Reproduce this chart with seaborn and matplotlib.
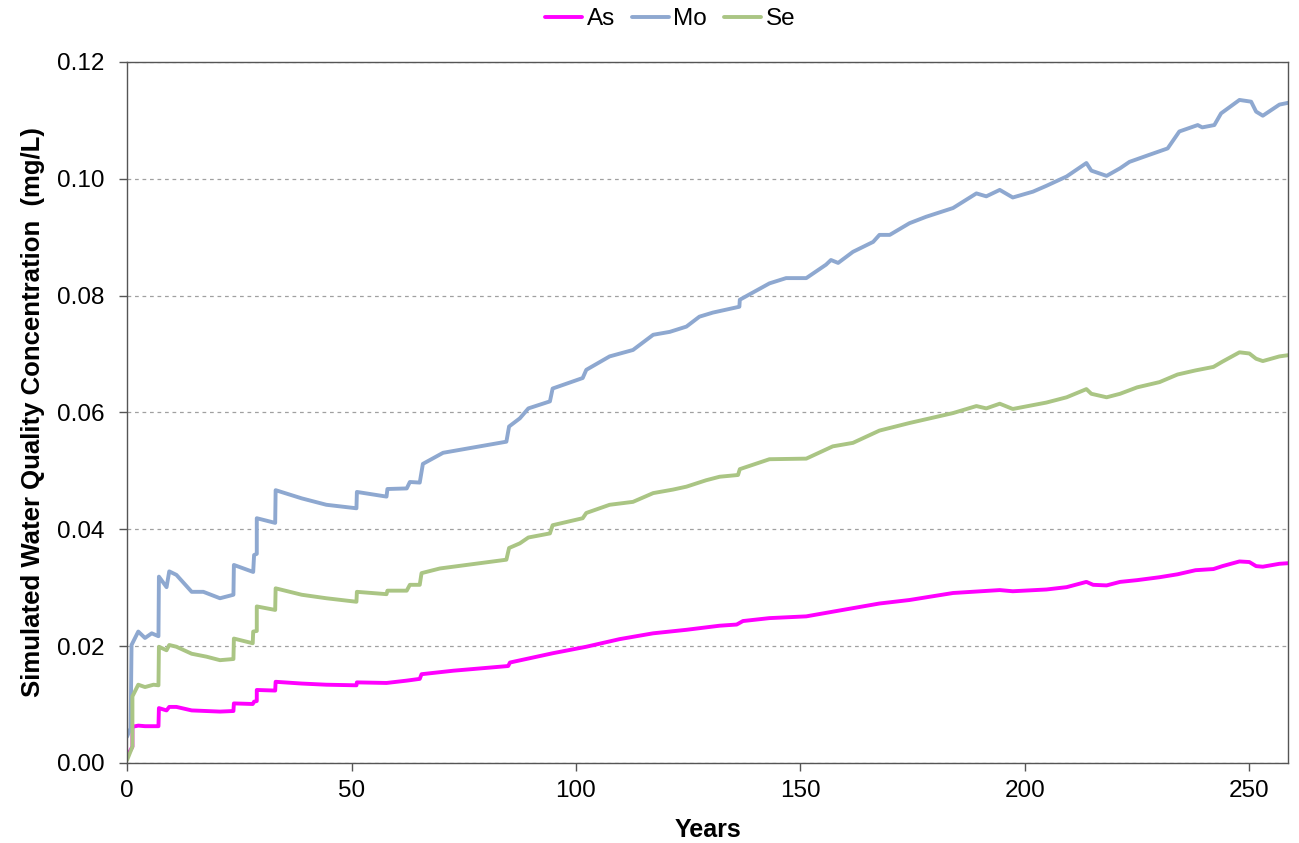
import matplotlib
matplotlib.use("Agg")
import matplotlib.pyplot as plt
import seaborn as sns
import pandas as pd

# Values (years, concentration in mg/L)
# repeated years mark the vertical steps of the simulated series
as_years = [0, 1.2, 1.2, 2.5, 4, 7, 7.1, 8.8, 9.4, 11, 14.4, 20.7, 23.7, 23.8, 28.0, 28.3, 28.9, 28.9,
            33, 33.1, 38.9, 44.4, 51.1, 51.2, 57.8, 62.3, 65.2, 65.6, 72.7, 84.9, 85.3, 94.9,
            102.3, 109.7, 117.2, 124.6, 132, 135.8, 137.2, 143.1, 151.3, 157.2, 167.6, 174.3,
            184, 194.4, 197.3, 204.8, 209.3, 213.7, 215.2, 218.2, 221.2, 225, 230, 234, 238,
            242, 244, 247.8, 250, 251.5, 253, 256.7, 258.6]
as_vals = [0.0011, 0.0028, 0.0062, 0.0064, 0.0063, 0.0063, 0.0094, 0.0090, 0.0096, 0.0096, 0.0090,
           0.0088, 0.0089, 0.0102, 0.0101, 0.0105, 0.0106, 0.0125, 0.0124, 0.0139, 0.0136, 0.0134,
           0.0133, 0.0138, 0.0137, 0.0141, 0.0144, 0.0152, 0.0158, 0.0166, 0.0172, 0.0188,
           0.0199, 0.0212, 0.0222, 0.0228, 0.0235, 0.0237, 0.0243, 0.0248, 0.0251, 0.0259, 0.0273,
           0.0279, 0.0291, 0.0296, 0.0294, 0.0297, 0.0301, 0.0310, 0.0305, 0.0304, 0.0310, 0.0313,
           0.0318, 0.0323, 0.0330, 0.0332, 0.0337, 0.0345, 0.0344, 0.0337, 0.0336, 0.0341, 0.0342]

mo_years = [0, 0.8, 1.0, 2.5, 4, 5.5, 7, 7.1, 8.8, 9.4, 11, 14.4, 17, 20.7, 23.7, 23.8, 28.1, 28.3,
            28.9, 28.9, 33, 33.1, 38.9, 44.4, 51.1, 51.2, 57.8, 58, 62.3, 63, 65.2, 65.9, 70.4,
            84.5, 85.1, 87.5, 89.4, 94.2, 94.8, 101.5, 102.3, 107.5, 112.7, 117.2, 120.9, 124.6,
            127.5, 130.5, 136.4, 136.5, 143.1, 146.8, 151.3, 155.7, 156.8, 158.4, 161.7, 166.2,
            167.6, 169.9, 174.3, 178, 184, 189.2, 191.4, 194.4, 197.3, 201.8, 204.8, 209.3, 213.7,
            214.8, 218.2, 221.2, 223.3, 227.7, 231.8, 234.4, 238.5, 239.5, 242.2, 243.7, 247.8,
            250.4, 251.5, 253, 256.7, 258.6]
mo_vals = [0.0045, 0.0060, 0.0202, 0.0225, 0.0214, 0.0222, 0.0217, 0.0319, 0.0301, 0.0328, 0.0322,
           0.0293, 0.0293, 0.0282, 0.0288, 0.0339, 0.0327, 0.0356, 0.0358, 0.0419, 0.0411, 0.0467,
           0.0453, 0.0442, 0.0436, 0.0464, 0.0456, 0.0469, 0.0470, 0.0481, 0.0480, 0.0512, 0.0531,
           0.0550, 0.0576, 0.0590, 0.0607, 0.0619, 0.0641, 0.0659, 0.0673, 0.0696, 0.0707, 0.0733,
           0.0738, 0.0747, 0.0764, 0.0771, 0.0781, 0.0793, 0.0821, 0.0830, 0.0830, 0.0853, 0.0861,
           0.0856, 0.0875, 0.0892, 0.0904, 0.0904, 0.0924, 0.0935, 0.0950, 0.0975, 0.0970, 0.0981,
           0.0968, 0.0978, 0.0988, 0.1004, 0.1027, 0.1014, 0.1005, 0.1018, 0.1029, 0.1041, 0.1052,
           0.1081, 0.1092, 0.1088, 0.1092, 0.1112, 0.1135, 0.1132, 0.1115, 0.1108, 0.1127, 0.1130]

se_years = [0, 1.2, 1.2, 2.5, 4, 5.9, 7, 7.1, 8.8, 9.4, 11, 14.4, 17.7, 20.7, 23.7, 23.8, 28.0, 28.1,
            28.9, 28.9, 33, 33.1, 38.9, 44.4, 51.1, 51.2, 57.8, 58, 62.3, 63, 65.2, 65.6, 69.7,
            84.5, 85.1, 87.5, 89.4, 94.2, 94.8, 101.5, 102.3, 107.5, 112.7, 117.2, 121.6, 124.6,
            129, 132, 136.1, 136.5, 143.1, 151.3, 157.2, 161.7, 167.6, 174.3, 184, 189.2, 191.4,
            194.4, 197.3, 204.8, 209.3, 213.7, 214.8, 218.2, 221.2, 225, 230, 234, 238, 242, 244,
            247.8, 250, 251.5, 253, 256.7, 258.6]
se_vals = [0.0005, 0.0028, 0.0114, 0.0134, 0.0130, 0.0134, 0.0133, 0.0199, 0.0193, 0.0202, 0.0199,
           0.0187, 0.0182, 0.0176, 0.0178, 0.0213, 0.0205, 0.0225, 0.0226, 0.0268, 0.0262, 0.0299,
           0.0288, 0.0282, 0.0276, 0.0293, 0.0289, 0.0295, 0.0295, 0.0305, 0.0305, 0.0325, 0.0333,
           0.0348, 0.0368, 0.0376, 0.0386, 0.0393, 0.0407, 0.0419, 0.0428, 0.0442, 0.0447, 0.0462,
           0.0468, 0.0473, 0.0484, 0.0490, 0.0493, 0.0503, 0.0520, 0.0521, 0.0542, 0.0548, 0.0569,
           0.0582, 0.0599, 0.0611, 0.0607, 0.0615, 0.0606, 0.0617, 0.0626, 0.0640, 0.0632, 0.0626,
           0.0632, 0.0643, 0.0652, 0.0665, 0.0672, 0.0678, 0.0687, 0.0703, 0.0701, 0.0692, 0.0688,
           0.0696, 0.0698]

# long table for seaborn
df = pd.concat([
    pd.DataFrame({"Years": as_years, "Conc": as_vals, "Element": "As"}),
    pd.DataFrame({"Years": mo_years, "Conc": mo_vals, "Element": "Mo"}),
    pd.DataFrame({"Years": se_years, "Conc": se_vals, "Element": "Se"}),
], ignore_index=True)

palette = {"As": "#FF00FF", "Mo": "#8EA8D0", "Se": "#AAC584"}

sns.set_style("white")
plt.rcParams["font.family"] = ["Liberation Sans", "DejaVu Sans"]
plt.rcParams["text.color"] = "black"
plt.rcParams["axes.labelcolor"] = "black"
plt.rcParams["xtick.color"] = "black"
plt.rcParams["ytick.color"] = "black"

fig = plt.figure(figsize=(12.99, 8.43), dpi=100)
ax = fig.add_axes([0.0978, 0.0949, 0.8937, 0.8316])

sns.lineplot(data=df, x="Years", y="Conc", hue="Element", palette=palette,
             estimator=None, sort=False, linewidth=2.8, ax=ax, legend=False)

ax.set_xlim(0, 258.6)
ax.set_ylim(0, 0.12)
ax.set_xticks([0, 50, 100, 150, 200, 250])
ax.set_yticks([0, 0.02, 0.04, 0.06, 0.08, 0.10, 0.12])
ax.yaxis.set_major_formatter(matplotlib.ticker.FormatStrFormatter("%.2f"))
ax.tick_params(axis="both", direction="out", length=6, width=1, color="#555555",
               labelsize=17.5, left=True, bottom=True, labelcolor="black")
ax.tick_params(axis="x", pad=6)
ax.tick_params(axis="y", pad=10)
ax.yaxis.grid(True, linestyle=(0, (3, 3)), color="#A0A0A0", linewidth=0.9)
ax.xaxis.grid(False)
for s in ax.spines.values():
    s.set_color("#555555")
    s.set_linewidth(1.0)

ax.set_xlabel("Years", fontsize=18, fontweight="bold", labelpad=12)
ax.set_ylabel("Simulated Water Quality Concentration  (mg/L)", fontsize=18.5,
              fontweight="bold", labelpad=9)

handles = [plt.Line2D([], [], color=palette[k], linewidth=2.8) for k in ["As", "Mo", "Se"]]
fig.legend(handles, ["As", "Mo", "Se"], loc="upper center", bbox_to_anchor=(0.516, 1.016),
           ncol=3, frameon=False, fontsize=17.5, handlelength=1.5, columnspacing=0.7,
           handletextpad=0.2)

fig.savefig("out.png", dpi=100)
